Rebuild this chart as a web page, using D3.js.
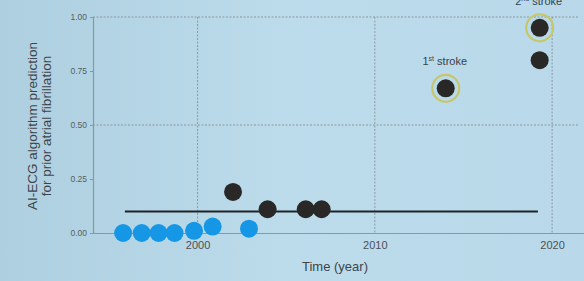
<!DOCTYPE html>
<html>
<head>
<meta charset="utf-8">
<script src="https://cdn.jsdelivr.net/npm/d3@7"></script>
<style>
  body { margin: 0; background: #b9d9e9; }
  svg { display: block; font-family: "Liberation Sans", Arial, sans-serif; }
</style>
</head>
<body>
<svg id="chart" width="584" height="281"></svg>
<script>
// values
var blueYears = [1995.8, 1996.85, 1997.8, 1998.7, 1999.8, 2000.85, 2002.9];
var blueVals  = [0.00, 0.00, 0.00, 0.00, 0.01, 0.03, 0.02];
var darkYears = [2002.0, 2003.95, 2006.1, 2007.0, 2014.0, 2019.3, 2019.3];
var darkVals  = [0.19, 0.11, 0.11, 0.11, 0.67, 0.80, 0.95];
var strokeLabels = ["1st", "2nd"];
var strokeYears = [2014.0, 2019.3];
var strokeVals  = [0.67, 0.95];
var refYears = [1995.9, 2019.2];
var refVal = 0.10;
var xTicks = [2000, 2010, 2020];
var yTicks = [0, 0.25, 0.5, 0.75, 1];
var yGrid = [0.5, 1];

var svg = d3.select("#chart");

// soft photo-like background
var defs = svg.append("defs");
var grad = defs.append("linearGradient").attr("id", "bg").attr("x1", 0).attr("x2", 1);
grad.append("stop").attr("offset", 0).attr("stop-color", "#aecfdf");
grad.append("stop").attr("offset", 0.5).attr("stop-color", "#bcdcec");
grad.append("stop").attr("offset", 1).attr("stop-color", "#b9d9ea");
svg.append("rect").attr("width", 584).attr("height", 281).attr("fill", "url(#bg)");

var x = d3.scaleLinear().domain([1994.1, 2021.8]).range([93, 584]);
var y = d3.scaleLinear().domain([0, 1]).range([233, 17]);

// grid
svg.selectAll("line.vg").data(xTicks).enter().append("line")
  .attr("class", "vg")
  .attr("x1", d => x(d)).attr("x2", d => x(d))
  .attr("y1", y(1)).attr("y2", y(0))
  .attr("stroke", "#8a98a3").attr("stroke-width", 1)
  .attr("stroke-dasharray", "2,1.5");

svg.selectAll("line.hg").data(yGrid).enter().append("line")
  .attr("class", "hg")
  .attr("x1", x.range()[0]).attr("x2", 578)
  .attr("y1", d => y(d)).attr("y2", d => y(d))
  .attr("stroke", "#8a98a3").attr("stroke-width", 1)
  .attr("stroke-dasharray", "2,1.5");

// axes
var yAxis = svg.append("g")
  .attr("transform", "translate(93,0)")
  .call(d3.axisLeft(y).tickValues(yTicks).tickFormat(d3.format(".2f")).tickSize(3).tickPadding(3));
var xAxis = svg.append("g")
  .attr("transform", "translate(0,233)")
  .call(d3.axisBottom(x).tickValues(xTicks).tickFormat(d3.format("d")).tickSize(0).tickPadding(8));

[yAxis, xAxis].forEach(g => {
  g.select(".domain").attr("stroke", "#8b98a0").attr("stroke-width", 1.2);
  g.selectAll(".tick line").attr("stroke", "#8b98a0");
});
yAxis.selectAll("text").attr("font-size", "8.5px").attr("fill", "#555e66");
xAxis.selectAll("text").attr("font-size", "11px").attr("fill", "#4a5056");

// reference line
svg.append("line")
  .attr("x1", x(refYears[0])).attr("x2", x(refYears[1]))
  .attr("y1", y(refVal)).attr("y2", y(refVal))
  .attr("stroke", "#1f2326").attr("stroke-width", 2);

// blue points
svg.selectAll("circle.blue").data(blueYears).enter().append("circle")
  .attr("class", "blue")
  .attr("cx", d => x(d))
  .attr("cy", (d, i) => y(blueVals[i]))
  .attr("r", 9)
  .attr("fill", "#1597e6");

// dark points
svg.selectAll("circle.dark").data(darkYears).enter().append("circle")
  .attr("class", "dark")
  .attr("cx", d => x(d))
  .attr("cy", (d, i) => y(darkVals[i]))
  .attr("r", 9)
  .attr("fill", "#2a2826");

// stroke rings and labels
svg.selectAll("circle.ring").data(strokeYears).enter().append("circle")
  .attr("class", "ring")
  .attr("cx", d => x(d))
  .attr("cy", (d, i) => y(strokeVals[i]))
  .attr("r", 13.5)
  .attr("fill", "none")
  .attr("stroke", "#c6c76a").attr("stroke-width", 2.2);

var lab = svg.selectAll("text.stk").data(strokeYears).enter().append("text")
  .attr("class", "stk")
  .attr("x", d => x(d) - 1)
  .attr("y", (d, i) => y(strokeVals[i]) - 23)
  .attr("text-anchor", "middle")
  .attr("font-size", "11px")
  .attr("fill", "#3a3f44");
lab.append("tspan").text((d, i) => strokeLabels[i].slice(0, 1));
lab.append("tspan").attr("font-size", "7px").attr("dy", "-4").text((d, i) => strokeLabels[i].slice(1));
lab.append("tspan").attr("dy", "4").text(" stroke");

// axis titles
svg.append("text")
  .attr("x", 335).attr("y", 271)
  .attr("text-anchor", "middle")
  .attr("font-size", "13px").attr("fill", "#3e444a")
  .text("Time (year)");

var yt = svg.append("text")
  .attr("transform", "translate(37,126) rotate(-90)")
  .attr("text-anchor", "middle")
  .attr("font-size", "13.5px").attr("fill", "#3e444a");
yt.append("tspan").attr("x", 0).attr("dy", 0).text("AI-ECG algorithm prediction");
yt.append("tspan").attr("x", 0).attr("dy", 14).text("for prior atrial fibrillation");
</script>
</body>
</html>
